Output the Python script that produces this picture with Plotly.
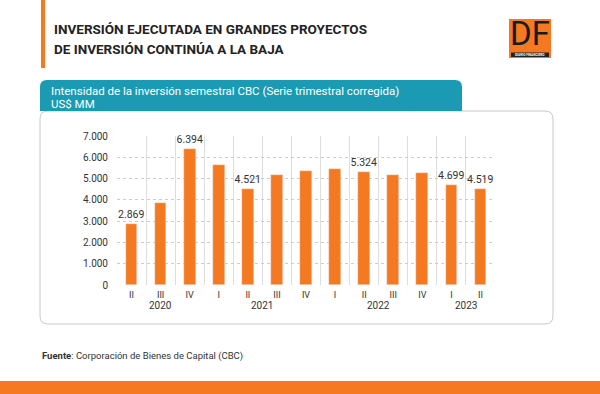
import plotly.graph_objects as go

# ---- data ----
years = ["2020", "2020", "2020", "2021", "2021", "2021", "2021",
         "2022", "2022", "2022", "2022", "2023", "2023"]
quarters = ["II", "III", "IV", "I", "II", "III", "IV",
            "I", "II", "III", "IV", "I", "II"]
values = [2869, 3850, 6394, 5620, 4521, 5180, 5350,
          5430, 5324, 5165, 5245, 4699, 4519]
labels = ["2.869", "", "6.394", "", "4.521", "", "",
          "", "5.324", "", "", "4.699", "4.519"]
y_ticks = [0, 1000, 2000, 3000, 4000, 5000, 6000, 7000]

W, H = 600, 394
L, R, T, B = 117, 105, 136, 109
PW, PH = W - L - R, H - T - B

def px(x):
    return (x - L) / PW

def py(y):
    return 1 - (y - T) / PH

ORANGE = "#F47920"
TEAL = "#1B9AB4"
FONT = "Roboto"

idx = list(range(len(values)))

fig = go.Figure()
fig.add_trace(go.Bar(
    x=idx, y=values, width=0.4, marker_color=ORANGE,
    text=labels, textposition="outside", cliponaxis=False,
    constraintext="none",
    textfont=dict(family=FONT, size=10.5, color="#333333"),
    hoverinfo="skip",
))

boundaries = [i - 0.5 for i in idx] + [idx[-1] + 0.5]

fig.update_layout(
    width=W, height=H,
    margin=dict(l=L, r=R, t=T, b=B, pad=0),
    paper_bgcolor="white", plot_bgcolor="rgba(0,0,0,0)",
    separators=",.",
    showlegend=False,
    bargap=0,
    font=dict(family=FONT, color="#333333"),
    xaxis=dict(
        range=[-0.5, len(values) - 0.5],
        tickmode="array", tickvals=idx, ticktext=quarters,
        showgrid=False, zeroline=False, showline=False,
        ticks="outside", ticklen=1, tickcolor="rgba(0,0,0,0)",
        tickfont=dict(family=FONT, size=9, color="#333333"),
        minor=dict(tickmode="array", tickvals=boundaries, showgrid=True,
                   gridcolor="#dddddd", gridwidth=1, ticks=""),
        fixedrange=True,
    ),
    yaxis=dict(
        range=[0, 7000],
        tickmode="array", tickvals=y_ticks, tickformat=",.0f",
        showgrid=True, gridcolor="#cccccc", griddash="dot", gridwidth=1,
        zeroline=False, showline=False,
        ticks="outside", ticklen=6, tickcolor="rgba(0,0,0,0)",
        tickfont=dict(family=FONT, size=10, color="#333333"),
        fixedrange=True,
    ),
)

shapes = []
# orange vertical accent bar
shapes.append(dict(type="rect", xref="paper", yref="paper",
                   x0=px(41), x1=px(45), y0=py(0), y1=py(68),
                   fillcolor=ORANGE, line_width=0, layer="below"))

def rr(x0, x1, y0, y1, r, top_only=False):
    p = f"M {px(x0+r)},{py(y0)} L {px(x1-r)},{py(y0)} Q {px(x1)},{py(y0)} {px(x1)},{py(y0+r)} "
    if top_only:
        p += f"L {px(x1)},{py(y1)} L {px(x0)},{py(y1)} "
    else:
        p += (f"L {px(x1)},{py(y1-r)} Q {px(x1)},{py(y1)} {px(x1-r)},{py(y1)} "
              f"L {px(x0+r)},{py(y1)} Q {px(x0)},{py(y1)} {px(x0)},{py(y1-r)} ")
    p += f"L {px(x0)},{py(y0+r)} Q {px(x0)},{py(y0)} {px(x0+r)},{py(y0)} Z"
    return p

# white panel with grey border, rounded corners
shapes.append(dict(type="path", xref="paper", yref="paper",
                   path=rr(40, 553, 111, 324, 8),
                   fillcolor="white", line=dict(color="#c8c8c8", width=1),
                   layer="below"))
# teal header box
shapes.append(dict(type="path", xref="paper", yref="paper",
                   path=rr(40, 462, 80, 111, 7, top_only=True),
                   fillcolor=TEAL, line_width=0, layer="below"))
# logo
shapes.append(dict(type="rect", xref="paper", yref="paper",
                   x0=px(509), x1=px(551), y0=py(19), y1=py(58),
                   fillcolor=ORANGE, line_width=0, layer="below"))
shapes.append(dict(type="rect", xref="paper", yref="paper",
                   x0=px(511), x1=px(549), y0=py(52.5), y1=py(57),
                   fillcolor="#222222", line_width=0, layer="below"))
# bottom strip
shapes.append(dict(type="rect", xref="paper", yref="paper",
                   x0=px(0), x1=px(600), y0=py(381), y1=py(394),
                   fillcolor=ORANGE, line_width=0, layer="below"))
fig.update_layout(shapes=shapes)

ann = []
def text(x, y, s, size, color="#222222", xanchor="left", family=FONT):
    ann.append(dict(xref="paper", yref="paper", x=px(x), y=py(y), text=s,
                    showarrow=False, xanchor=xanchor, yanchor="middle",
                    font=dict(family=family, size=size, color=color)))

text(52, 29, "<b>INVERSIÓN EJECUTADA EN GRANDES PROYECTOS</b>", 13.5)
text(52, 49, "<b>DE INVERSIÓN CONTINÚA A LA BAJA</b>", 13.5)
text(49, 91, "Intensidad de la inversión semestral CBC (Serie trimestral corregida)", 11.5, "white")
text(49, 104, "US$ MM", 11.5, "white")
text(40, 356, "<b>Fuente</b>: Corporación de Bienes de Capital (CBC)", 9.5, "#333333")
text(530, 33.5, "DF", 33, "#1a1a1a", xanchor="center")
text(530, 54.8, "<b>DIARIO FINANCIERO</b>", 3.2, "white", xanchor="center")

# year labels centred under their quarter groups
seen = []
for yv in years:
    if yv not in seen:
        seen.append(yv)
for yv in seen:
    pos = [i for i, v in zip(idx, years) if v == yv]
    ann.append(dict(xref="x", yref="paper", x=sum(pos) / len(pos), y=py(305),
                    text=yv, showarrow=False, xanchor="center", yanchor="middle",
                    font=dict(family=FONT, size=10, color="#333333")))

fig.update_layout(annotations=ann)
fig.write_html("out.html")
